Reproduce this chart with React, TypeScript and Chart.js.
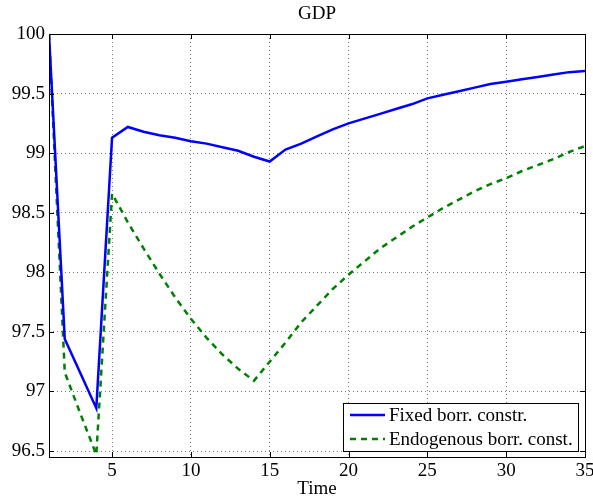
import React, { useEffect, useRef } from "react";
import { Chart, registerables } from "chart.js";

Chart.register(...registerables);

const TIME = [1, 2, 3, 4, 5, 6, 7, 8, 9, 10, 11, 12, 13, 14, 15, 16, 17, 18, 19, 20, 21, 22, 23, 24, 25, 26, 27, 28, 29, 30, 31, 32, 33, 34, 35];

const FIXED = [100, 97.44, 97.15, 96.86, 99.13, 99.22, 99.18, 99.15, 99.13, 99.1, 99.08, 99.05, 99.02, 98.97, 98.93, 99.03, 99.08, 99.14, 99.2, 99.25, 99.29, 99.33, 99.37, 99.41, 99.46, 99.49, 99.52, 99.55, 99.58, 99.6, 99.62, 99.64, 99.66, 99.68, 99.69];

const ENDOG = [100, 97.16, 96.81, 96.47, 98.66, 98.42, 98.2, 97.99, 97.79, 97.61, 97.45, 97.31, 97.19, 97.09, 97.25, 97.41, 97.58, 97.72, 97.86, 97.98, 98.09, 98.2, 98.29, 98.38, 98.46, 98.54, 98.61, 98.68, 98.74, 98.79, 98.85, 98.9, 98.95, 99.01, 99.06];

const X_TICKS = [5, 10, 15, 20, 25, 30, 35];
const Y_TICKS = [96.5, 97, 97.5, 98, 98.5, 99, 99.5, 100];

const SERIES_LABELS = ["Fixed borr. constr.", "Endogenous borr. const."];
const TITLE = "GDP";
const X_TITLE = "Time";

const FONT_FAMILY = '"Liberation Serif", "Times New Roman", serif';
const FONT_SIZE = 19;

const framePlugin = {
  id: "matlabFrame",
  afterDatasetsDraw(chart: any) {
    const ctx = chart.ctx;
    const { left, right, top, bottom } = chart.chartArea;
    ctx.save();
    ctx.strokeStyle = "#000";
    ctx.lineWidth = 1;
    ctx.setLineDash([]);
    ctx.strokeRect(Math.round(left) + 0.5, Math.round(top) + 0.5, Math.round(right - left), Math.round(bottom - top));
    const tl = 5;
    const xs = chart.scales.x;
    const ys = chart.scales.y;
    ctx.beginPath();
    xs.ticks.forEach((t: any) => {
      const px = Math.round(xs.getPixelForValue(t.value)) + 0.5;
      ctx.moveTo(px, bottom);
      ctx.lineTo(px, bottom - tl);
      ctx.moveTo(px, top);
      ctx.lineTo(px, top + tl);
    });
    ys.ticks.forEach((t: any) => {
      const py = Math.round(ys.getPixelForValue(t.value)) + 0.5;
      ctx.moveTo(left, py);
      ctx.lineTo(left + tl, py);
      ctx.moveTo(right, py);
      ctx.lineTo(right - tl, py);
    });
    ctx.stroke();

    ctx.fillStyle = "#000";
    ctx.font = `${FONT_SIZE}px ${FONT_FAMILY}`;
    ctx.textAlign = "center";
    ctx.textBaseline = "middle";
    ctx.fillText(TITLE, (left + right) / 2, 14);

    const ds = chart.data.datasets;
    let maxW = 0;
    ds.forEach((d: any) => {
      maxW = Math.max(maxW, ctx.measureText(d.label).width);
    });
    const boxW = Math.round(7 + 35 + 4 + maxW + 5);
    const boxH = 48;
    const bx = Math.round(right - 7 - boxW);
    const by = Math.round(bottom - 6 - boxH);
    ctx.fillStyle = "#fff";
    ctx.fillRect(bx, by, boxW, boxH);
    ctx.strokeStyle = "#000";
    ctx.lineWidth = 1;
    ctx.strokeRect(bx + 0.5, by + 0.5, boxW, boxH);
    ds.forEach((d: any, i: number) => {
      const cy = by + 12 + i * 24;
      ctx.strokeStyle = d.borderColor;
      ctx.lineWidth = d.borderWidth;
      ctx.setLineDash(d.borderDash || []);
      ctx.beginPath();
      ctx.moveTo(bx + 7, cy);
      ctx.lineTo(bx + 42, cy);
      ctx.stroke();
      ctx.setLineDash([]);
      ctx.fillStyle = "#000";
      ctx.textAlign = "left";
      ctx.textBaseline = "middle";
      ctx.fillText(d.label, bx + 46, cy + 1);
    });
    ctx.restore();
  },
};

export default function App() {
  const ref = useRef<HTMLCanvasElement | null>(null);

  useEffect(() => {
    document.body.style.margin = "0";
    const canvas = ref.current;
    if (!canvas) return;
    const chart = new Chart(canvas, {
      type: "line",
      data: {
        datasets: [
          {
            label: SERIES_LABELS[0],
            data: TIME.map((t, i) => ({ x: t, y: FIXED[i] })),
            borderColor: "#0000ff",
            borderWidth: 2.5,
            pointRadius: 0,
            tension: 0,
            fill: false,
          },
          {
            label: SERIES_LABELS[1],
            data: TIME.map((t, i) => ({ x: t, y: ENDOG[i] })),
            borderColor: "#008000",
            borderWidth: 2.5,
            borderDash: [6, 5],
            pointRadius: 0,
            tension: 0,
            fill: false,
          },
        ],
      },
      options: {
        responsive: false,
        animation: false,
        devicePixelRatio: 1,
        layout: { padding: { top: 34, right: 8, left: 0, bottom: 0 } },
        plugins: {
          legend: { display: false },
          title: { display: false },
          tooltip: { enabled: false },
        },
        scales: {
          x: {
            type: "linear",
            min: 1,
            max: 35,
            afterBuildTicks: (s: any) => {
              s.ticks = X_TICKS.map((v) => ({ value: v }));
            },
            afterFit: (s: any) => {
              s.height = 43;
              s.paddingLeft = 0;
              s.paddingRight = 0;
            },
            grid: { color: "#7a7a7a", lineWidth: 1, drawTicks: false },
            border: { display: false, dash: [1, 3] },
            ticks: {
              autoSkip: false,
              maxRotation: 0,
              padding: 3,
              color: "#000",
              font: { family: FONT_FAMILY, size: FONT_SIZE },
              callback: (v: any) => String(v),
            },
            title: {
              display: true,
              text: X_TITLE,
              color: "#000",
              font: { family: FONT_FAMILY, size: FONT_SIZE },
              padding: { top: 0, bottom: 0 },
            },
          },
          y: {
            type: "linear",
            min: 96.45,
            max: 100,
            afterBuildTicks: (s: any) => {
              s.ticks = Y_TICKS.map((v) => ({ value: v }));
            },
            afterFit: (s: any) => {
              s.width = 49;
            },
            grid: { color: "#7a7a7a", lineWidth: 1, drawTicks: false },
            border: { display: false, dash: [1, 3] },
            ticks: {
              autoSkip: false,
              padding: 4,
              color: "#000",
              font: { family: FONT_FAMILY, size: FONT_SIZE },
              callback: (v: any) => String(v),
            },
          },
        },
      },
      plugins: [framePlugin],
    } as any);
    return () => chart.destroy();
  }, []);

  return (
    <div style={{ position: "absolute", left: 0, top: 0, width: 593, height: 500 }}>
      <canvas ref={ref} width={593} height={500} style={{ width: 593, height: 500 }} />
    </div>
  );
}
